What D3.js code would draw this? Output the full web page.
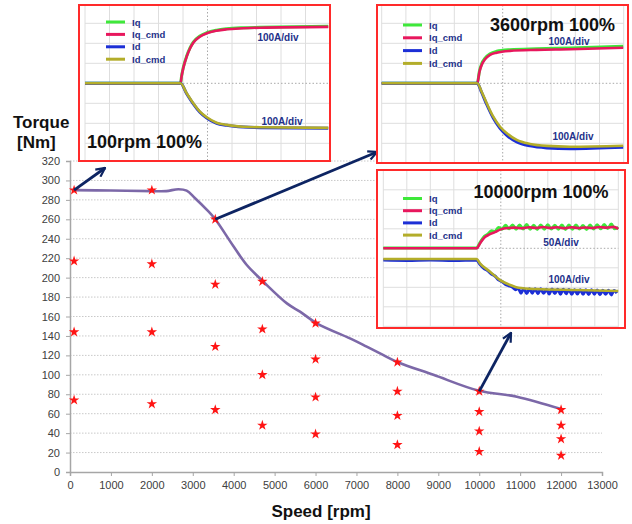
<!DOCTYPE html>
<html>
<head>
<meta charset="utf-8">
<script src="https://cdn.jsdelivr.net/npm/d3@7"></script>
<style>
  body { margin: 0; background: #fff; }
  svg { display: block; font-family: "Liberation Sans", Arial, sans-serif; }
</style>
</head>
<body>
<svg id="chart" width="632" height="524"></svg>
<script>
// main chart data
var speedTicks = [0, 1000, 2000, 3000, 4000, 5000, 6000, 7000, 8000, 9000, 10000, 11000, 12000, 13000];
var torqueTicks = [0, 20, 40, 60, 80, 100, 120, 140, 160, 180, 200, 220, 240, 260, 280, 300, 320];

// measured operating points (stars), 4 load levels per speed
var starSpeeds = [100, 2000, 3550, 4700, 6000, 8000, 10000, 12000];
var starTorques = [
    [290, 217, 144, 74],
    [290, 214, 144, 70],
    [260, 193, 129, 64],
    [196, 147, 100, 48],
    [153, 116, 77, 39],
    [113, 83, 58, 28],
    [83, 62, 42, 21],
    [64, 48, 34, 17]
];

// max torque curve
var curveSpeed = [100, 1000, 2000, 2350, 2650, 2850, 3050, 3340, 3550, 3990, 4320, 4720, 5300, 5620, 6030, 6920, 7250, 7600, 8010, 8880, 10000, 10920, 12020];
var curveTorque = [290, 289.6, 289, 289, 291, 289.5, 282, 270, 260, 232.5, 213, 196, 173.5, 165, 153, 136, 129, 121.5, 113, 100, 83.5, 77.5, 64.5];

// oscilloscope captures: [time div, value div]
var legendNames = ['Iq', 'Iq_cmd', 'Id', 'Id_cmd'];

var iq100 = [[0, 0], [3.9, 0], [3.94, 0.35], [4.01, 0.78], [4.15, 1.36], [4.29, 1.78], [4.42, 2.06], [4.69, 2.36], [4.97, 2.53], [5.37, 2.66], [5.78, 2.73], [6.46, 2.78], [7.14, 2.8], [9.93, 2.85]];
var iqCmd100 = [[0, 0], [3.9, 0], [3.94, 0.33], [4.01, 0.75], [4.15, 1.33], [4.29, 1.75], [4.42, 2.03], [4.69, 2.33], [4.97, 2.5], [5.37, 2.63], [5.78, 2.7], [6.46, 2.75], [7.14, 2.78], [9.93, 2.82]];
var id100 = [[0, 0], [3.9, 0], [4.15, -0.52], [4.42, -1.03], [4.69, -1.45], [4.97, -1.74], [5.37, -2.0], [5.78, -2.1], [6.46, -2.19], [7.14, -2.22], [9.93, -2.25]];
var idCmd100 = [[0, 0], [3.9, 0], [4.15, -0.5], [4.42, -1.0], [4.69, -1.42], [4.97, -1.7], [5.37, -1.97], [5.78, -2.08], [6.46, -2.17], [7.14, -2.2], [9.93, -2.23]];

var iq3600 = [[0, 0], [3.95, 0], [4.04, 0.62], [4.13, 0.97], [4.27, 1.26], [4.48, 1.48], [4.75, 1.6], [5.3, 1.68], [6.4, 1.73], [7.78, 1.77], [9.98, 1.85]];
var iqCmd3600 = [[0, 0], [3.95, 0], [4.04, 0.58], [4.13, 0.92], [4.27, 1.2], [4.48, 1.42], [4.75, 1.53], [5.3, 1.62], [6.4, 1.67], [7.78, 1.7], [9.98, 1.78]];
var id3600 = [[0, 0], [3.95, 0], [4.13, -0.46], [4.34, -1.06], [4.61, -1.74], [4.89, -2.25], [5.17, -2.6], [5.58, -2.93], [6.13, -3.13], [6.82, -3.23], [7.78, -3.27], [9.98, -3.2]];
var idCmd3600 = [[0, 0], [3.95, 0], [4.13, -0.42], [4.34, -1.0], [4.61, -1.67], [4.89, -2.17], [5.17, -2.5], [5.58, -2.83], [6.13, -3.03], [6.82, -3.13], [7.78, -3.17], [9.98, -3.12]];

var iq10000 = [[0, 0.02], [3.97, 0.02], [4.12, 0.3], [4.3, 0.62], [4.45, 0.72], [4.6, 0.9], [4.75, 0.86], [4.9, 1.07], [5.05, 0.98], [5.2, 1.18], [5.35, 1.0], [5.5, 1.2], [5.65, 0.98], [5.8, 1.2], [5.95, 0.99], [6.1, 1.22], [6.25, 0.98], [6.4, 1.18], [6.55, 0.97], [6.7, 1.2], [6.85, 0.98], [7.0, 1.21], [7.15, 0.99], [7.3, 1.18], [7.45, 0.98], [7.6, 1.2], [7.75, 0.97], [7.9, 1.19], [8.05, 0.98], [8.2, 1.2], [8.35, 0.99], [8.5, 1.17], [8.65, 0.97], [8.8, 1.19], [8.95, 0.99], [9.1, 1.21], [9.25, 1.0], [9.4, 1.22], [9.55, 1.01], [9.7, 1.24], [9.85, 1.0], [10, 1.08]];
var iqCmd10000 = [[0, 0], [3.97, 0], [4.12, 0.26], [4.3, 0.55], [4.5, 0.7], [4.75, 0.83], [5.0, 0.97], [5.3, 1.04], [5.6, 1.06], [5.9, 1.03], [6.2, 1.08], [6.5, 1.04], [6.8, 1.09], [7.1, 1.04], [7.4, 1.08], [7.7, 1.03], [8.0, 1.08], [8.3, 1.04], [8.6, 1.07], [8.9, 1.04], [9.2, 1.09], [9.5, 1.06], [9.8, 1.1], [10, 1.0]];
var id10000 = [[0, -0.6], [1, -0.62], [2, -0.6], [3, -0.62], [3.97, -0.6], [4.11, -0.82], [4.3, -1.05], [4.45, -1.15], [4.6, -1.32], [4.75, -1.42], [4.9, -1.62], [5.05, -1.7], [5.2, -1.85], [5.35, -1.92], [5.5, -2.0], [5.62, -2.12], [5.74, -2.05], [5.86, -2.3], [5.98, -2.06], [6.1, -2.32], [6.22, -2.07], [6.34, -2.3], [6.46, -2.08], [6.58, -2.33], [6.7, -2.08], [6.82, -2.31], [6.94, -2.1], [7.06, -2.34], [7.18, -2.09], [7.3, -2.32], [7.42, -2.1], [7.54, -2.35], [7.66, -2.1], [7.78, -2.33], [7.9, -2.11], [8.02, -2.36], [8.14, -2.12], [8.26, -2.34], [8.38, -2.12], [8.5, -2.36], [8.62, -2.13], [8.74, -2.37], [8.86, -2.13], [8.98, -2.35], [9.1, -2.14], [9.22, -2.38], [9.34, -2.15], [9.46, -2.36], [9.58, -2.15], [9.7, -2.39], [9.82, -2.16], [9.94, -2.3]];
var idCmd10000 = [[0, -0.55], [3.97, -0.55], [4.11, -0.77], [4.54, -1.2], [4.97, -1.63], [5.4, -1.88], [5.74, -2.02], [6.53, -2.09], [8.3, -2.14], [10, -2.19]];

var svg = d3.select('#chart');
var font = '"Liberation Sans", Arial, sans-serif';

// scales
var x = d3.scaleLinear().domain([0, 13000]).range([70, 602]);
var y = d3.scaleLinear().domain([0, 320]).range([472, 161]);

// horizontal dotted gridlines
svg.append('g').selectAll('line')
    .data(torqueTicks.slice(1))
    .enter().append('line')
    .attr('x1', x(0)).attr('x2', x(13000))
    .attr('y1', function (d) { return y(d); })
    .attr('y2', function (d) { return y(d); })
    .attr('stroke', '#c9c9c9')
    .attr('stroke-dasharray', '1.5,1.5');

// axes
var yAxis = svg.append('g')
    .attr('transform', 'translate(' + x(0) + ',0)')
    .call(d3.axisLeft(y).tickValues(torqueTicks).tickSize(4).tickPadding(6));
var xAxis = svg.append('g')
    .attr('transform', 'translate(0,' + y(0) + ')')
    .call(d3.axisBottom(x).tickValues(speedTicks).tickFormat(d3.format('d')).tickSize(4).tickPadding(5));
[xAxis, yAxis].forEach(function (a) {
    a.select('.domain').attr('stroke', '#a6a6a6').attr('stroke-width', 1.5);
    a.selectAll('.tick line').attr('stroke', '#a6a6a6');
    a.selectAll('.tick text').attr('fill', '#404040').style('font-size', '11px').style('font-family', font);
});

// axis titles
svg.append('text').attr('x', 13).attr('y', 128).text('Torque')
    .style('font-size', '17px').style('font-weight', 'bold').attr('fill', '#111');
svg.append('text').attr('x', 17).attr('y', 148).text('[Nm]')
    .style('font-size', '17px').style('font-weight', 'bold').attr('fill', '#111');
svg.append('text').attr('x', 321).attr('y', 517).attr('text-anchor', 'middle').text('Speed [rpm]')
    .style('font-size', '17px').style('font-weight', 'bold').attr('fill', '#111');

// max torque curve
var curvePts = curveSpeed.map(function (s, i) { return [s, curveTorque[i]]; });
svg.append('path')
    .datum(curvePts)
    .attr('d', d3.line()
        .x(function (d) { return x(d[0]); })
        .y(function (d) { return y(d[1]); })
        .curve(d3.curveCatmullRom.alpha(0.5)))
    .attr('fill', 'none')
    .attr('stroke', '#7c68a8')
    .attr('stroke-width', 2.6);

// stars
var stars = [];
starSpeeds.forEach(function (s, i) {
    starTorques[i].forEach(function (t) { stars.push([s, t]); });
});
svg.append('g').selectAll('path')
    .data(stars)
    .enter().append('path')
    .attr('d', d3.symbol().type(d3.symbolStar).size(34))
    .attr('transform', function (d) { return 'translate(' + x(d[0]) + ',' + y(d[1]) + ')'; })
    .attr('fill', '#ff1414');

// arrows from operating points to scope captures
var defs = svg.append('defs');
defs.append('marker')
    .attr('id', 'head')
    .attr('viewBox', '0 0 10 10')
    .attr('refX', 9).attr('refY', 5)
    .attr('markerWidth', 11).attr('markerHeight', 11)
    .attr('markerUnits', 'userSpaceOnUse')
    .attr('orient', 'auto')
    .append('path')
    .attr('d', 'M1,1 L9,5 L1,9')
    .attr('fill', 'none')
    .attr('stroke', '#0d2462')
    .attr('stroke-width', 2);

var arrows = [
    { from: [100, 290], to: [105, 168] },
    { from: [3550, 260], to: [377, 152] },
    { from: [10000, 83], to: [511, 333] }
];
arrows.forEach(function (a) {
    svg.append('line')
        .attr('x1', x(a.from[0])).attr('y1', y(a.from[1]))
        .attr('x2', a.to[0]).attr('y2', a.to[1])
        .attr('stroke', '#0d2462')
        .attr('stroke-width', 2.8)
        .attr('marker-end', 'url(#head)');
});

// scope insets
var traceColors = ['#3ee83a', '#e8175d', '#1c2fd6', '#b3ad2a'];

var drawInset = function (cfg, id, traces, divLabels, title) {
    var sx = d3.scaleLinear().domain([0, 10]).range([cfg.left, cfg.left + 10 * cfg.divX]);
    var sy = d3.scaleLinear().domain([-4, 4]).range([cfg.cy + 4 * cfg.divY, cfg.cy - 4 * cfg.divY]);

    defs.append('clipPath').attr('id', id)
        .append('rect')
        .attr('x', cfg.box[0]).attr('y', cfg.box[1])
        .attr('width', cfg.box[2]).attr('height', cfg.box[3]);

    var g = svg.append('g').attr('clip-path', 'url(#' + id + ')');
    g.append('rect')
        .attr('x', cfg.box[0]).attr('y', cfg.box[1])
        .attr('width', cfg.box[2]).attr('height', cfg.box[3])
        .attr('fill', '#fff');

    // grid
    g.selectAll('line.v').data(d3.range(0, 11)).enter().append('line')
        .attr('x1', function (d) { return sx(d); }).attr('x2', function (d) { return sx(d); })
        .attr('y1', cfg.box[1]).attr('y2', cfg.box[1] + cfg.box[3])
        .attr('stroke', function (d) { return d === 5 ? '#a8a8a8' : '#dedede'; })
        .attr('stroke-dasharray', function (d) { return d === 5 ? '1.5,2' : null; });
    g.selectAll('line.h').data(d3.range(-4, 5)).enter().append('line')
        .attr('x1', sx(0)).attr('x2', sx(10))
        .attr('y1', function (d) { return sy(d); }).attr('y2', function (d) { return sy(d); })
        .attr('stroke', function (d) { return d === 0 ? '#a8a8a8' : '#dedede'; })
        .attr('stroke-dasharray', function (d) { return d === 0 ? '1.5,2' : null; });

    // traces
    var line = d3.line()
        .x(function (d) { return sx(d[0]); })
        .y(function (d) { return sy(d[1]); })
        .curve(d3.curveMonotoneX);
    traces.forEach(function (tr, i) {
        g.append('path').datum(tr)
            .attr('d', line)
            .attr('fill', 'none')
            .attr('stroke', traceColors[i])
            .attr('stroke-width', i % 2 === 0 ? 3 : 2.6)
            .attr('stroke-linejoin', 'round');
    });

    // legend
    legendNames.forEach(function (name, i) {
        var ly = cfg.legend[1] + i * cfg.legend[2];
        g.append('line')
            .attr('x1', cfg.legend[0]).attr('x2', cfg.legend[0] + 19)
            .attr('y1', ly).attr('y2', ly)
            .attr('stroke', traceColors[i]).attr('stroke-width', 3);
        g.append('text')
            .attr('x', cfg.legend[0] + 26).attr('y', ly + 3.5)
            .text(name)
            .attr('fill', '#23318a')
            .style('font-size', '9.5px').style('font-weight', 'bold');
    });

    divLabels.forEach(function (d) {
        g.append('text')
            .attr('x', d.pos[0]).attr('y', d.pos[1] + 3.5)
            .attr('text-anchor', 'middle')
            .text(d.text)
            .attr('fill', '#23318a')
            .style('font-size', '10px').style('font-weight', 'bold');
    });

    g.append('text')
        .attr('x', cfg.title[0]).attr('y', cfg.title[1])
        .text(title)
        .attr('fill', '#111')
        .style('font-size', '18px').style('font-weight', 'bold');

    svg.append('rect')
        .attr('x', cfg.box[0]).attr('y', cfg.box[1])
        .attr('width', cfg.box[2]).attr('height', cfg.box[3])
        .attr('fill', 'none')
        .attr('stroke', '#ff2a2a')
        .attr('stroke-width', 2);
};

drawInset({ box: [79, 5, 251, 156], left: 85, divX: 24.5, cy: 83.3, divY: 20,
            legend: [106, 22, 12.4], title: [87, 147.5] },
    'clip100', [iq100, iqCmd100, id100, idCmd100],
    [{ text: '100A/div', pos: [278, 37] }, { text: '100A/div', pos: [282, 121] }],
    '100rpm 100%');

drawInset({ box: [377, 5, 251, 158], left: 381.7, divX: 24.2, cy: 83.3, divY: 20,
            legend: [403, 25, 12.8], title: [490, 30.7] },
    'clip3600', [iq3600, iqCmd3600, id3600, idCmd3600],
    [{ text: '100A/div', pos: [569, 41.7] }, { text: '100A/div', pos: [573, 136.7] }],
    '3600rpm 100%');

drawInset({ box: [377, 170, 248, 158], left: 383.3, divX: 23.5, cy: 248.3, divY: 19.5,
            legend: [403, 198.5, 12.2], title: [473.5, 198.3] },
    'clip10000', [iq10000, iqCmd10000, id10000, idCmd10000],
    [{ text: '50A/div', pos: [561, 242] }, { text: '100A/div', pos: [569, 279] }],
    '10000rpm 100%');
</script>
</body>
</html>
